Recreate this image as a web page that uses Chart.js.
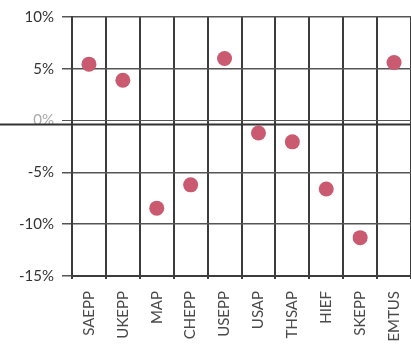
<!DOCTYPE html>
<html>
<head>
<meta charset="utf-8">
<script src="https://cdn.jsdelivr.net/npm/chart.js@4"></script>
<style>
  html, body { margin: 0; padding: 0; background: #fff; }
  #wrap { width: 411px; height: 347px; }
</style>
</head>
<body>
<div id="wrap"><canvas id="chart" width="411" height="347"></canvas></div>
<script>
const categories = ["SAEPP", "UKEPP", "MAP", "CHEPP", "USEPP", "USAP", "THSAP", "HIEF", "SKEPP", "EMTUS"];
const returns = [5.45, 3.9, -8.45, -6.2, 6.0, -1.2, -2.05, -6.6, -11.3, 5.6];
const yTicks = [10, 5, 0, -5, -10, -15];

// darker zero line running under the y labels too
const zeroLine = {
  id: "zeroLine",
  afterDraw(chart) {
    const y = chart.scales.y.getPixelForValue(0);
    const ctx = chart.ctx;
    ctx.save();
    ctx.strokeStyle = "#333";
    ctx.lineWidth = 2;
    ctx.beginPath();
    ctx.moveTo(0, y + 4);
    ctx.lineTo(chart.chartArea.right, y + 4);
    ctx.stroke();
    ctx.restore();
  }
};

const ctx = document.getElementById("chart").getContext("2d");
new Chart(ctx, {
  type: "line",
  data: {
    labels: categories,
    datasets: [{
      data: returns,
      showLine: false,
      pointRadius: 7.5,
      pointHoverRadius: 7.5,
      pointBackgroundColor: "#c95a6f",
      pointBorderWidth: 0
    }]
  },
  options: {
    responsive: false,
    animation: false,
    layout: { autoPadding: false, padding: { top: 15, right: 0, left: 0, bottom: 0 } },
    plugins: { legend: { display: false }, tooltip: { enabled: false } },
    scales: {
      x: {
        offset: true,
        grid: {
          offset: true,
          color: "#3c3c3c",
          lineWidth: 2,
          tickLength: 3
        },
        border: { color: "#3c3c3c", width: 2 },
        ticks: {
          minRotation: 90,
          maxRotation: 90,
          padding: 12,
          color: "#4a4a4a",
          font: { family: "Lato", size: 15 }
        },
        afterFit(scale) {
          scale.height = 71;
          scale.paddingLeft = 0;
          scale.paddingRight = 0;
        }
      },
      y: {
        min: -15,
        max: 10,
        afterBuildTicks(scale) {
          scale.ticks = yTicks.map(v => ({ value: v }));
        },
        grid: {
          color: "#555",
          lineWidth: ctx => ctx.tick && ctx.tick.value === 0 ? 1 : 1.5,
          tickLength: 10
        },
        border: { color: "#3c3c3c", width: 2 },
        ticks: {
          padding: 8,
          color: ctx => ctx.tick && ctx.tick.value === 0 ? "#aaa" : "#333",
          font: { family: "Lato", size: 15 },
          callback: v => v + "%"
        },
        afterFit(scale) { scale.width = 72; }
      }
    }
  },
  plugins: [zeroLine]
});
</script>
</body>
</html>
